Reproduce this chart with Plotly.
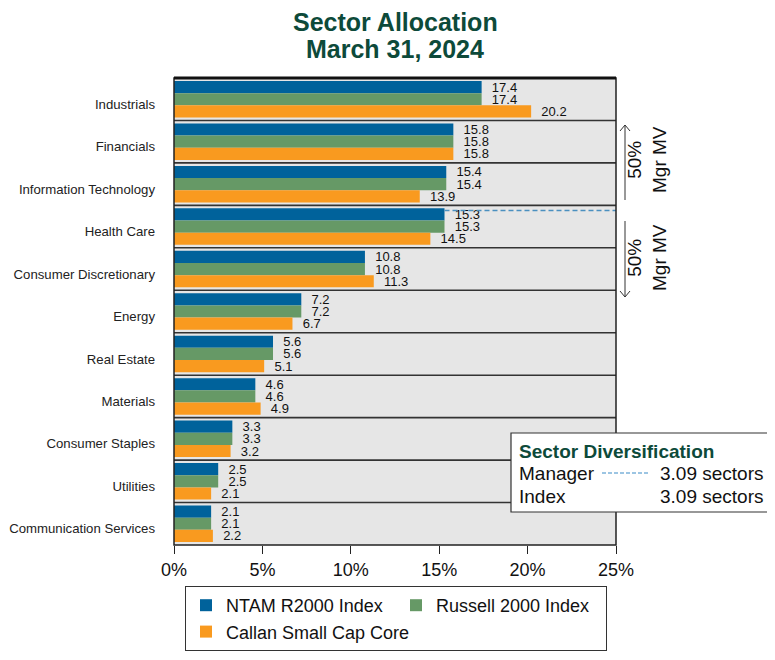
import plotly.graph_objects as go

sectors = ["Industrials", "Financials", "Information Technology", "Health Care",
           "Consumer Discretionary", "Energy", "Real Estate", "Materials",
           "Consumer Staples", "Utilities", "Communication Services"]
ntam = [17.4, 15.8, 15.4, 15.3, 10.8, 7.2, 5.6, 4.6, 3.3, 2.5, 2.1]
russell = [17.4, 15.8, 15.4, 15.3, 10.8, 7.2, 5.6, 4.6, 3.3, 2.5, 2.1]
callan = [20.2, 15.8, 13.9, 14.5, 11.3, 6.7, 5.1, 4.9, 3.2, 2.1, 2.2]
series_names = ["NTAM R2000 Index", "Russell 2000 Index", "Callan Small Cap Core"]
colors = ["#00629b", "#669966", "#f99a1f"]
x_ticks = [0, 5, 10, 15, 20, 25]
title_lines = ["Sector Allocation", "March 31, 2024"]
mgr_div = "3.09 sectors"
idx_div = "3.09 sectors"
cut_sector = 3  # Health Care: 50% cumulative manager MV

FONT = "Arial, Liberation Sans, sans-serif"
OFF = 8  # page body margin
WW, WH = 775, 660  # window
L, R, T, B = 174, 616, 78, 545  # plot area in window pixels

def px(x):
    return (x - L) / (R - L)

def py(y):
    return (B - y) / (B - T)

ypos = list(range(len(sectors)))
fig = go.Figure()
for name, vals, c in zip(series_names, [ntam, russell, callan], colors):
    fig.add_trace(go.Bar(
        x=vals, y=ypos, orientation="h", name=name, marker_color=c,
        marker_line_width=0,
        text=[f"{v:.1f}" for v in vals], textposition="outside",
        texttemplate="  %{text}", constraintext="none", cliponaxis=False,
        textfont=dict(family=FONT, size=13, color="#111"),
    ))

# manager diversification dashed line
fig.add_trace(go.Scatter(
    x=[ntam[cut_sector], x_ticks[-1]], y=[cut_sector - 0.38, cut_sector - 0.38],
    mode="lines", line=dict(color="#4a90c0", width=1.5, dash="5px,3px"),
    showlegend=False, hoverinfo="skip", cliponaxis=False))

shapes = []
for i in range(len(sectors) - 1):
    shapes.append(dict(type="line", xref="paper", yref="y", x0=0, x1=1,
                       y0=i + 0.5, y1=i + 0.5, line=dict(color="#333", width=1.6)))
# plot border
shapes.append(dict(type="rect", xref="paper", yref="paper", x0=0, x1=1, y0=0, y1=1,
                   line=dict(color="#222", width=1.5)))
shapes.append(dict(type="line", xref="paper", yref="paper", x0=0, x1=1, y0=1, y1=1,
                   line=dict(color="#111", width=3)))

# arrows on right
ax = px(625)
shapes.append(dict(type="line", xref="paper", yref="paper", x0=ax, x1=ax,
                   y0=py(125), y1=py(200), line=dict(color="#333", width=1)))
shapes.append(dict(type="path", xref="paper", yref="paper",
                   path=f"M {px(620)} {py(131)} L {ax} {py(125)} L {px(630)} {py(131)}",
                   line=dict(color="#333", width=1)))
shapes.append(dict(type="line", xref="paper", yref="paper", x0=ax, x1=ax,
                   y0=py(221), y1=py(297), line=dict(color="#333", width=1)))
shapes.append(dict(type="path", xref="paper", yref="paper",
                   path=f"M {px(620)} {py(291)} L {ax} {py(297)} L {px(630)} {py(291)}",
                   line=dict(color="#333", width=1)))

# Sector diversification box
shapes.append(dict(type="rect", xref="paper", yref="paper", x0=px(511), x1=px(773),
                   y0=py(512), y1=py(433), fillcolor="white",
                   line=dict(color="#333", width=1.2), layer="above"))
shapes.append(dict(type="line", xref="paper", yref="paper", x0=px(602), x1=px(648),
                   y0=py(473), y1=py(473), line=dict(color="#3a8cc8", width=1.2, dash="4px,2px"),
                   layer="above"))

annotations = []
for i, (line, yc) in enumerate(zip(title_lines, [22, 49])):
    annotations.append(dict(xref="paper", yref="paper", x=0.5, y=py(yc),
                            text=f"<b>{line}</b>", showarrow=False,
                            font=dict(family=FONT, size=25, color="#0d4a3a"),
                            xanchor="center", yanchor="middle"))
for yc in [160, 258]:
    annotations.append(dict(xref="paper", yref="paper", x=px(647), y=py(yc),
                            text="50%<br>Mgr MV", textangle=-90, showarrow=False,
                            font=dict(family=FONT, size=19, color="#111"),
                            xanchor="center", yanchor="middle"))
annotations.append(dict(xref="paper", yref="paper", x=px(517), y=py(451),
                        text="<b>Sector Diversification</b>", showarrow=False,
                        font=dict(family=FONT, size=19, color="#0d4a3a"),
                        xanchor="left", yanchor="middle"))
for label, val, yc in [("Manager", mgr_div, 473), ("Index", idx_div, 496)]:
    annotations.append(dict(xref="paper", yref="paper", x=px(517), y=py(yc),
                            text=label, showarrow=False,
                            font=dict(family=FONT, size=19, color="#111"),
                            xanchor="left", yanchor="middle"))
    annotations.append(dict(xref="paper", yref="paper", x=px(766), y=py(yc),
                            text=val, showarrow=False,
                            font=dict(family=FONT, size=19, color="#111"),
                            xanchor="right", yanchor="middle"))

fig.update_layout(
    width=WW - OFF, height=WH - OFF,
    margin=dict(l=L - OFF, r=WW - R, t=T - OFF, b=WH - B, autoexpand=False),
    paper_bgcolor="white", plot_bgcolor="#e6e6e6",
    barmode="group", bargap=0.14, bargroupgap=0,
    xaxis=dict(range=[0, 25], tickvals=x_ticks, ticktext=[f"{t}%" for t in x_ticks],
               showgrid=False, zeroline=False, ticks="outside", ticklen=8,
               tickcolor="#222", tickwidth=1, automargin=False,
               tickfont=dict(family=FONT, size=18, color="#111"), fixedrange=True),
    yaxis=dict(tickvals=ypos, ticktext=sectors, range=[len(sectors) - 0.5, -0.5],
               showgrid=False, zeroline=False, ticks="", ticklabelstandoff=18,
               ticklabelshift=-5, automargin=False,
               tickfont=dict(family=FONT, size=13.2, color="#222")),
    legend=dict(orientation="h", x=px(185), y=py(586), xanchor="left", yanchor="top",
                bgcolor="white", bordercolor="#333", borderwidth=1,
                font=dict(family=FONT, size=18, color="#111"),
                entrywidth=165, entrywidthmode="pixels", traceorder="normal",
                itemwidth=30),
    shapes=shapes, annotations=annotations,
)
fig.write_html("out.html")
